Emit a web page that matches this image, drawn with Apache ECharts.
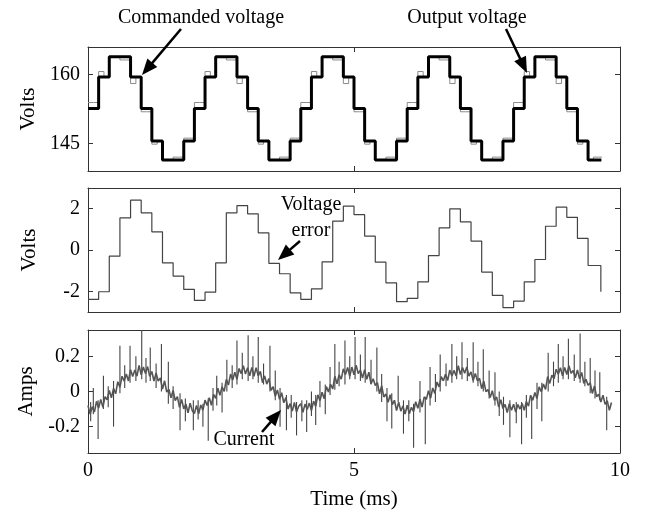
<!DOCTYPE html>
<html>
<head>
<meta charset="utf-8">
<script src="https://cdn.jsdelivr.net/npm/echarts@6/dist/echarts.min.js"></script>
<style>
html,body{margin:0;padding:0;background:#fff;}
#chart{width:647px;height:514px;}
</style>
</head>
<body>
<div id="chart"></div>
<script>
// ---------------- DATA ----------------
// Commanded voltage (V), one level every 0.2 ms starting at t = 0
const cmdStep = 0.2;
const cmdLevels = [
  152.6,159.4,163.8,163.8,159.4,152.6,145.6,141.5,141.5,145.6,
  152.6,159.4,163.8,163.8,159.4,152.6,145.6,141.5,141.5,145.6,
  152.6,159.4,163.8,163.8,159.4,152.6,145.6,141.5,141.5,145.6,
  152.6,159.4,163.8,163.8,159.4,152.6,145.6,141.5,141.5,145.6,
  152.6,159.4,163.8,163.8,159.4,152.6,145.6,141.5,141.5
];
const cmdEnd = 9.65;

// Output voltage (V), one level every 0.1 ms starting at t = 0
const outStep = 0.1;
const outLevels = [
  153.9,153.9,160.6,159.4,163.8,163.8,163.1,163.1,158.0,159.4,151.9,151.9,144.9,145.6,141.5,141.5,142.1,142.1,146.2,146.2,
  153.9,153.9,160.6,159.4,163.8,163.8,163.1,163.1,158.0,159.4,151.9,151.9,144.9,145.6,141.5,141.5,142.1,142.1,146.2,146.2,
  153.9,153.9,160.6,159.4,163.8,163.8,163.1,163.1,158.0,159.4,151.9,151.9,144.9,145.6,141.5,141.5,142.1,142.1,146.2,146.2,
  153.9,153.9,160.6,159.4,163.8,163.8,163.1,163.1,158.0,159.4,151.9,151.9,144.9,145.6,141.5,141.5,142.1,142.1,146.2,146.2,
  153.9,153.9,160.6,159.4,163.8,163.8,163.1,163.1,158.0,159.4,151.9,151.9,144.9,145.6,141.5,142.1,142.1
];
const outEnd = 9.66;

// Voltage error (V), one level every 0.2 ms starting at t = 0
const errStep = 0.2;
const errLevels = [
  -2.39,-2.02,-0.30,1.55,2.41,1.80,0.88,-0.62,-1.26,-1.91,
  -2.44,-2.04,-0.62,1.80,2.15,1.75,0.83,-0.65,-1.15,-2.07,
  -2.39,-1.88,-0.57,1.40,2.12,1.71,0.67,-0.59,-1.59,-2.50,
  -2.34,-1.54,-0.27,1.07,1.99,1.36,0.43,-1.07,-2.20,-2.79,
  -2.47,-1.54,-0.46,1.15,2.07,1.58,0.56,-0.75
];
const errEndTime = 9.64;
const errEndValue = -2.02;

// Current (A): noisy band, one sample every 0.04 ms starting at t = 0
const curStep = 0.04;
const curVals = [
  -0.080,-0.129,-0.087,-0.117,-0.056,-0.094,-0.045,-0.090,-0.029,-0.047,
  0.006,-0.036,0.018,-0.013,0.056,0.024,0.087,0.059,0.100,0.060,
  0.124,0.086,0.122,0.087,0.149,0.095,0.139,0.102,0.142,0.086,
  0.114,0.060,0.105,0.059,0.077,0.014,0.061,-0.003,0.013,-0.036,
  0.006,-0.052,-0.029,-0.090,-0.045,-0.099,-0.071,-0.122,-0.067,-0.109,
  -0.125,-0.079,-0.127,-0.077,-0.106,-0.049,-0.080,-0.035,-0.079,-0.017,
  -0.039,0.019,-0.022,0.027,0.001,0.069,0.037,0.099,0.065,0.110,
  0.069,0.131,0.102,0.147,0.099,0.135,0.089,0.137,0.087,0.136,
  0.089,0.115,0.050,0.089,0.042,0.074,0.006,0.027,-0.027,0.009,
  -0.044,-0.007,-0.064,-0.035,-0.100,-0.069,-0.111,-0.062,-0.117,-0.084,
  -0.070,-0.119,-0.072,-0.102,-0.066,-0.109,-0.055,-0.085,-0.019,-0.052,
  -0.004,-0.041,0.028,-0.003,0.041,0.014,0.087,0.044,0.095,0.070,
  0.129,0.096,0.137,0.087,0.139,0.095,0.149,0.102,0.122,0.076,
  0.124,0.070,0.110,0.044,0.072,0.034,0.051,-0.013,0.033,-0.031,
  -0.014,-0.062,-0.019,-0.075,-0.050,-0.109,-0.061,-0.112,-0.082,-0.129,
  -0.078,-0.126,-0.090,-0.115,-0.058,-0.096,-0.044,-0.088,-0.031,-0.045,
  0.004,-0.038,0.020,-0.011,0.054,0.026,0.085,0.061,0.098,0.062,
  0.122,0.088,0.120,0.089,0.147,0.097,0.137,0.104,0.140,0.088,
  0.112,0.062,0.103,0.061,0.075,0.016,0.059,-0.001,0.011,-0.034,
  0.004,-0.050,-0.031,-0.088,-0.047,-0.097,-0.073,-0.120,-0.069,-0.107,
  -0.072,-0.117,-0.074,-0.100,-0.068,-0.107,-0.057,-0.083,-0.021,-0.050,
  -0.006,-0.039,0.026,-0.001,0.043,0.012,0.085,0.046,0.093,0.072,
  0.127,0.098,0.135,0.089,0.137,0.097,0.147,0.104,0.120,0.078,
  0.122,0.072,0.108,0.046,0.070,0.036,0.049,-0.011,0.031,-0.029,
  -0.016,-0.060,-0.021,-0.073,-0.052,-0.107,-0.063
];

// Current spikes: time (ms), low end (A), high end (A)
const spikeTimes = [
  0.05,0.10,0.19,0.29,0.38,0.48,0.60,0.69,0.79,0.90,1.01,1.09,1.17,1.28,1.38,1.51,1.60,1.73,1.83,1.98,
  2.07,2.16,2.26,2.35,2.42,2.52,2.61,2.71,2.80,2.90,3.01,3.10,3.20,3.30,3.42,3.52,3.61,3.73,3.82,3.92,
  4.02,4.11,4.20,4.28,4.36,4.46,4.55,4.64,4.72,4.83,4.92,5.02,5.12,5.21,5.32,5.43,5.52,5.62,5.71,5.83,5.93,
  6.03,6.12,6.24,6.34,6.43,6.53,6.62,6.73,6.84,6.93,7.03,7.13,7.24,7.33,7.43,7.54,7.65,7.73,7.81,7.93,
  8.05,8.15,8.24,8.34,8.44,8.53,8.65,8.75,8.84,8.93,9.03,9.14,9.25,9.34,9.44,9.53,9.62,9.75
];
const spikeLow = [
  -0.17,-0.13,-0.27,-0.10,-0.09,-0.20,-0.01,0.02,0.05,0.06,0.07,0.05,0.06,0.02,0.00,-0.07,-0.10,-0.22,-0.17,-0.22,
  -0.16,-0.20,-0.28,-0.11,-0.08,-0.12,0.00,0.02,0.04,0.07,0.06,0.07,0.05,0.04,0.00,-0.05,-0.20,-0.22,-0.15,-0.25,
  -0.17,-0.23,-0.14,-0.19,-0.09,-0.13,-0.02,0.01,0.03,0.04,0.07,0.07,0.06,0.05,0.04,0.00,-0.06,-0.17,-0.21,-0.06,-0.24,
  -0.17,-0.32,-0.12,-0.30,-0.08,-0.06,0.00,0.03,0.05,0.07,0.07,0.06,0.05,0.03,0.00,-0.04,-0.08,-0.14,-0.19,-0.26,
  -0.18,-0.30,-0.15,-0.27,-0.10,-0.17,0.00,0.03,0.05,0.07,0.07,0.06,0.05,0.03,-0.01,-0.04,-0.05,-0.22
];
const spikeHigh = [
  -0.06,0.02,-0.05,0.09,0.03,0.06,0.26,0.15,0.26,0.20,0.35,0.19,0.25,0.16,0.27,0.17,0.03,-0.01,-0.04,-0.05,
  -0.05,-0.07,-0.04,0.02,0.09,0.05,0.18,0.15,0.29,0.22,0.32,0.20,0.31,0.16,0.26,0.12,0.02,-0.02,-0.02,-0.06,
  -0.05,-0.05,0.00,-0.02,0.06,0.04,0.14,0.27,0.17,0.29,0.20,0.31,0.21,0.31,0.18,0.25,0.10,0.02,-0.01,0.09,-0.05,
  -0.05,-0.07,0.06,-0.03,0.14,0.10,0.21,0.16,0.27,0.20,0.28,0.19,0.28,0.17,0.24,0.12,0.11,0.00,-0.03,-0.05,
  -0.06,-0.06,-0.02,-0.03,0.05,0.05,0.22,0.17,0.27,0.20,0.30,0.21,0.33,0.17,0.19,0.12,0.11,-0.03
];

// Axis ticks
const xTicks = [0, 5, 10];
const topTicks = [145, 160];
const midTicks = [-2, 0, 2];
const botTicks = [-0.2, 0, 0.2];

// ---------------- BUILD ----------------
function stepData(levels, dt, endT, endV) {
  const d = levels.map((v, i) => [+(i * dt).toFixed(3), v]);
  d.push([endT, endV === undefined ? levels[levels.length - 1] : endV]);
  return d;
}
const cmdData = stepData(cmdLevels, cmdStep, cmdEnd);
const outData = stepData(outLevels, outStep, outEnd);
const errData = stepData(errLevels, errStep, errEndTime, errEndValue);
const curData = curVals.map((v, i) => [+(i * curStep).toFixed(3), v]);
const spikeData = spikeTimes.map((t, i) => [t, spikeLow[i], spikeHigh[i]]);

const FONT = '"Liberation Serif", "Times New Roman", serif';
const AX = '#333';
const grids = [
  {left: 88, width: 532, top: 47, height: 124},
  {left: 88, width: 532, top: 188, height: 124},
  {left: 88, width: 532, top: 330, height: 123}
];
const yRanges = [[139.1, 165.9], [-3, 3], [-0.35, 0.35]];
const yTickSets = [topTicks, midTicks, botTicks];
const yNames = ['Volts', 'Volts', 'Amps'];

const xAxes = [], yAxes = [];
grids.forEach((g, i) => {
  ['bottom', 'top'].forEach(pos => {
    const main = pos === 'bottom';
    xAxes.push({
      type: 'value', gridIndex: i, position: pos, min: 0, max: 10, interval: 5,
      axisLine: {show: true, onZero: false, lineStyle: {color: AX, width: 1}},
      axisTick: {show: true, inside: true, length: 5, lineStyle: {color: AX}},
      splitLine: {show: false},
      axisLabel: {show: main && i === 2, color: '#000', fontFamily: FONT, fontSize: 20, margin: 8,
                  customValues: xTicks},
      name: (main && i === 2) ? 'Time (ms)' : '',
      nameLocation: 'middle', nameGap: 36,
      nameTextStyle: {color: '#000', fontFamily: FONT, fontSize: 21}
    });
  });
  ['left', 'right'].forEach(pos => {
    const main = pos === 'left';
    yAxes.push({
      type: 'value', gridIndex: i, position: pos, min: yRanges[i][0], max: yRanges[i][1],
      axisLine: {show: true, onZero: false, lineStyle: {color: AX, width: 1}},
      axisTick: {show: true, inside: true, length: 5, lineStyle: {color: AX}, customValues: yTickSets[i]},
      splitLine: {show: false},
      axisLabel: {show: main, color: '#000', fontFamily: FONT, fontSize: 20, margin: 8,
                  customValues: yTickSets[i], formatter: v => String(v)},
      name: main ? yNames[i] : '',
      nameLocation: 'middle', nameGap: 48, nameRotate: 90,
      nameTextStyle: {color: '#000', fontFamily: FONT, fontSize: 21}
    });
  });
});

const series = [
  {name: 'Output voltage', type: 'line', step: 'end', xAxisIndex: 0, yAxisIndex: 0, data: outData,
   showSymbol: false, lineStyle: {color: '#8a8a8a', width: 1}, z: 2},
  {name: 'Commanded voltage', type: 'line', step: 'end', xAxisIndex: 0, yAxisIndex: 0, data: cmdData,
   showSymbol: false, lineStyle: {color: '#000', width: 3}, z: 3},
  {name: 'Voltage error', type: 'line', step: 'end', xAxisIndex: 2, yAxisIndex: 2, data: errData,
   showSymbol: false, lineStyle: {color: '#444', width: 1.2}},
  {name: 'Current spikes', type: 'custom', xAxisIndex: 4, yAxisIndex: 4, data: spikeData,
   encode: {x: 0, y: [1, 2]}, z: 2,
   renderItem: function (params, api) {
     const p1 = api.coord([api.value(0), api.value(1)]);
     const p2 = api.coord([api.value(0), api.value(2)]);
     return {type: 'line', shape: {x1: p1[0], y1: p1[1], x2: p2[0], y2: p2[1]},
             style: {stroke: '#444', lineWidth: 1.1}};
   }},
  {name: 'Current', type: 'line', xAxisIndex: 4, yAxisIndex: 4, data: curData,
   showSymbol: false, lineStyle: {color: '#555', width: 1.6}, z: 3}
];

function arrow(x0, y0, x1, y1) {
  const dx = x1 - x0, dy = y1 - y0, L = Math.hypot(dx, dy);
  const ux = dx / L, uy = dy / L, nx = -uy, ny = ux;
  const hl = 16, hw = 6.5;
  const bx = x1 - ux * hl, by = y1 - uy * hl;
  return [
    {type: 'line', shape: {x1: x0, y1: y0, x2: bx + ux * 2, y2: by + uy * 2},
     style: {stroke: '#000', lineWidth: 2.5}, z: 100},
    {type: 'polygon', shape: {points: [[x1, y1], [bx + nx * hw, by + ny * hw], [bx - nx * hw, by - ny * hw]]},
     style: {fill: '#000'}, z: 100}
  ];
}
function label(text, x, y) {
  return {type: 'text', x: x, y: y, z: 100,
    style: {text: text, fill: '#000', font: '20px ' + FONT,
            align: 'center', verticalAlign: 'middle', textAlign: 'center', textVerticalAlign: 'middle'}};
}

const graphics = [].concat(
  [label('Commanded voltage', 201, 18), label('Output voltage', 467, 18),
   label('Voltage', 311, 205), label('error', 311, 231), label('Current', 244, 440)],
  arrow(181, 29, 142, 75),
  arrow(506, 29, 527, 73),
  arrow(300, 241, 278, 260),
  arrow(262, 432, 281, 410)
);

const chart = echarts.init(document.getElementById('chart'));
chart.setOption({
  animation: false,
  backgroundColor: '#fff',
  grid: grids,
  xAxis: xAxes,
  yAxis: yAxes,
  series: series,
  graphic: graphics
});
</script>
</body>
</html>
